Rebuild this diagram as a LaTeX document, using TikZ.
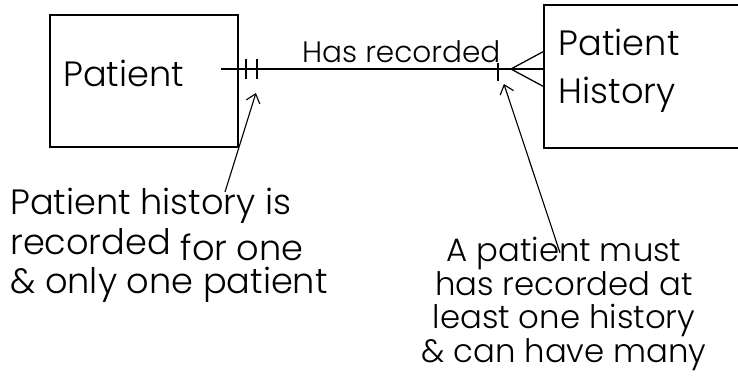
\documentclass[tikz,border=0pt]{standalone}
\usepackage{fontspec}
\setmainfont{Poppins Light}
\usetikzlibrary{positioning,arrows.meta,calc}

\begin{document}
\begin{tikzpicture}[
  entity/.style={rectangle, draw, line width=1.3pt, align=left, font=\fontsize{25}{34}\selectfont},
  rel/.style={line width=0.9pt},
  note/.style={inner sep=0pt, font=\fontsize{25}{28}\selectfont},
  pointer/.style={line width=0.8pt, -{Straight Barb[length=6pt,width=10pt]}},
  node distance=2.2cm
]
\useasboundingbox (0,0) rectangle (18.45,-9.675);

% Entities
\node[entity, inner xsep=0.33cm, text width=4.04cm, minimum height=3.3cm, text depth=0.4cm] (patient) at (3.6,-2.025) {Patient};
\node[entity, right=7.6cm of patient, yshift=0.11cm, inner xsep=0.375cm, text width=4.7cm, minimum height=3.575cm, text depth=49pt] (history) {Patient\\History};

% Relationship line
\coordinate (lineL) at ([xshift=-0.45cm,yshift=0.3cm]patient.east);
\coordinate (lineR) at (history.west |- lineL);
\draw[rel] (lineL) -- node[pos=0.56, above=1pt, font=\fontsize{21}{24}\selectfont] (hasrec) {Has recorded} (lineR);

% One and only one
\draw[rel] ([xshift=0.625cm,yshift=0.25cm]lineL) -- ++(0,-0.5);
\draw[rel] ([xshift=0.9cm,yshift=0.25cm]lineL) -- ++(0,-0.5);

% One or many
\coordinate (crow) at ([xshift=-0.8cm]lineR);
\draw[rel] ([yshift=0.43cm]lineR) -- (crow) -- ([yshift=-0.43cm]lineR);
\draw[rel] ([xshift=-1.125cm,yshift=0.15cm]lineR) -- ++(0,-0.45);

% Notes
\node[note, anchor=north west, align=left] (note1) at (0.25,-4.7)
  {Patient history is\\recorded \raisebox{-0.15cm}{for one}\\\& only one patient};
\node[note, align=center, font=\fontsize{23}{24}\selectfont] (note2) at (14.1,-7.6)
  {A patient must\\has recorded at\\least one history\\\& can have many};

% Pointers
\coordinate (tip1) at ([xshift=0.875cm,yshift=-0.6cm]lineL);
\coordinate (tip2) at ([xshift=-0.975cm,yshift=-0.375cm]lineR);
\draw[pointer] ([xshift=5.375cm,yshift=-0.1cm]note1.north west) -- (tip1);
\draw[pointer] ([xshift=-0.1cm,yshift=-0.4cm]note2.north) -- (tip2);
\end{tikzpicture}
\end{document}
